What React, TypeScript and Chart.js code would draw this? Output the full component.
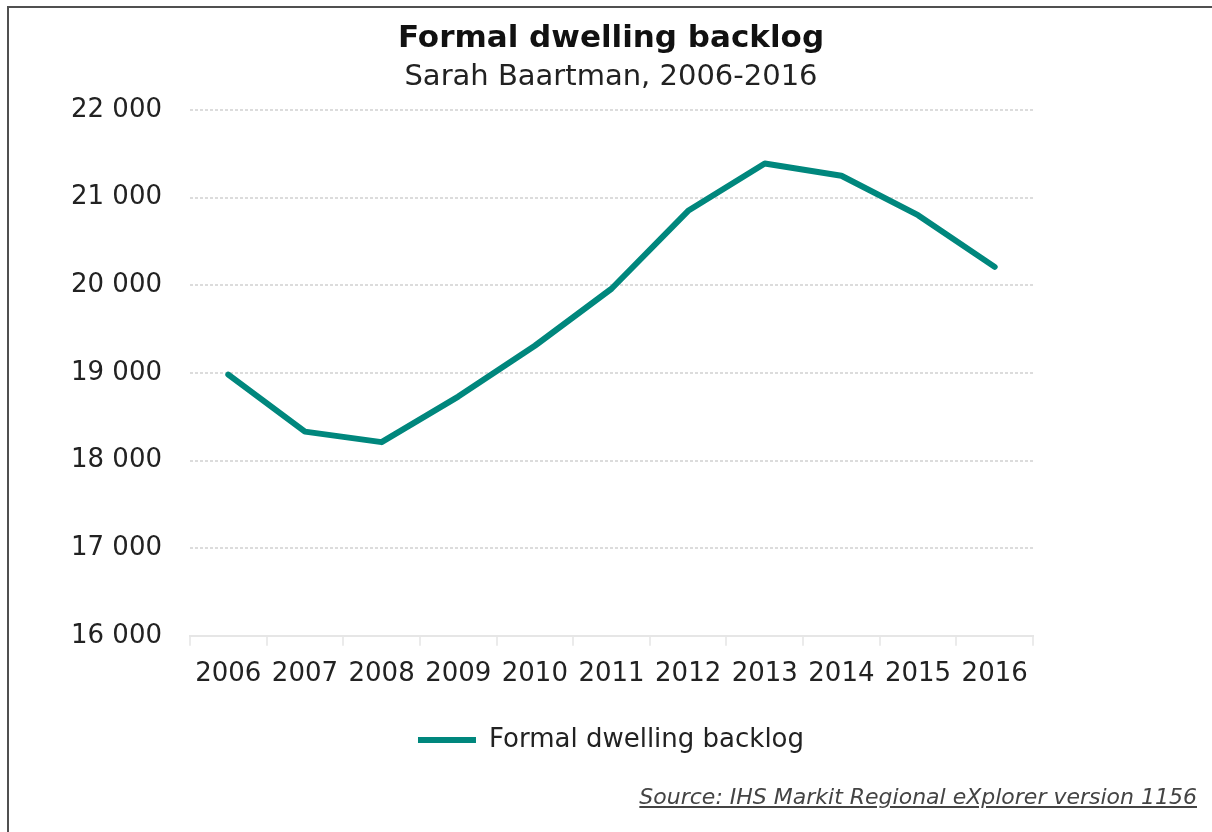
import React, { useEffect, useRef } from "react";
import { Chart, registerables } from "chart.js";

Chart.register(...registerables);

const years: string[] = ["2006", "2007", "2008", "2009", "2010", "2011", "2012", "2013", "2014", "2015", "2016"];
const backlog: number[] = [18980, 18330, 18210, 18730, 19310, 19960, 20850, 21390, 21250, 20800, 20210];
const seriesLabel = "Formal dwelling backlog";
const titleText = "Formal dwelling backlog";
const subtitleText = "Sarah Baartman, 2006-2016";
const sourceText = "Source: IHS Markit Regional eXplorer version 1156";
const yMin = 16000;
const yMax = 22000;
const yStep = 1000;

const FONT = "'DejaVu Sans', Verdana, sans-serif";
const TEAL = "#00877d";

function fmt(v: number): string {
  return String(Math.round(v)).replace(/\B(?=(\d{3})+(?!\d))/g, " ");
}

export default function App() {
  const ref = useRef<HTMLCanvasElement | null>(null);

  useEffect(() => {
    if (!ref.current) return;
    const chart = new Chart(ref.current, {
      type: "line",
      data: {
        labels: years,
        datasets: [
          {
            label: seriesLabel,
            data: backlog,
            borderColor: TEAL,
            backgroundColor: TEAL,
            borderWidth: 6,
            pointRadius: 0,
            tension: 0,
            borderCapStyle: "round",
            borderJoinStyle: "round",
            yAxisID: "y",
          },
        ],
      },
      options: {
        responsive: false,
        animation: false,
        layout: { padding: { left: 10, right: 0, top: 0, bottom: 69 } },
        plugins: {
          title: {
            display: true,
            text: titleText,
            color: "#111",
            font: { family: FONT, size: 31, weight: "bold", lineHeight: 1.2 },
            padding: { top: 20, bottom: 0 },
          },
          subtitle: {
            display: true,
            text: subtitleText,
            color: "#222",
            font: { family: FONT, size: 29, weight: "normal", lineHeight: 1.2 },
            padding: { top: 3, bottom: 15 },
          },
          legend: {
            display: true,
            position: "bottom",
            labels: {
              color: "#222",
              font: { family: FONT, size: 26 },
              usePointStyle: true,
              pointStyle: "line",
              pointStyleWidth: 58,
              padding: 24,
            },
          },
          tooltip: { enabled: false },
        },
        scales: {
          x: {
            offset: true,
            grid: {
              display: true,
              offset: true,
              drawOnChartArea: false,
              drawTicks: true,
              tickLength: 10,
              color: "#ebebeb",
              lineWidth: 2,
            },
            border: { display: true, color: "#e6e6e6", width: 2 },
            ticks: {
              color: "#222",
              font: { family: FONT, size: 26 },
              padding: 13,
              maxRotation: 0,
              autoSkip: false,
            },
          },
          y: {
            position: "left",
            min: yMin,
            max: yMax,
            afterFit: (s: any) => {
              s.width = 180;
            },
            grid: {
              display: true,
              drawTicks: false,
              color: "#dcdcdc",
              lineWidth: 2,
            },
            border: { display: false, dash: [3, 2] },
            ticks: {
              stepSize: yStep,
              padding: 28,
              color: "#222",
              font: { family: FONT, size: 26 },
              callback: (v: any) => fmt(Number(v)),
            },
          },
          yRight: {
            position: "right",
            display: true,
            afterFit: (s: any) => {
              s.width = 179;
            },
            grid: { display: false, drawOnChartArea: false, drawTicks: false },
            border: { display: false },
            ticks: { display: false },
          },
        },
      } as any,
    });
    return () => chart.destroy();
  }, []);

  return (
    <div style={{ position: "absolute", left: 0, top: 0, width: 1212, height: 832, background: "#fff", overflow: "hidden" }}>
      <div
        style={{
          position: "absolute",
          left: 7,
          top: 6,
          width: 1300,
          height: 900,
          borderTop: "2px solid #505050",
          borderLeft: "2px solid #505050",
        }}
      />
      <canvas ref={ref} width={1212} height={832} style={{ position: "absolute", left: 0, top: 0, width: 1212, height: 832 }} />
      <div
        style={{
          position: "absolute",
          right: 15,
          top: 786,
          fontFamily: FONT,
          fontStyle: "italic",
          fontSize: 22,
          lineHeight: "22px",
          color: "#444",
          textDecoration: "underline",
          whiteSpace: "nowrap",
        }}
      >
        {sourceText}
      </div>
    </div>
  );
}
